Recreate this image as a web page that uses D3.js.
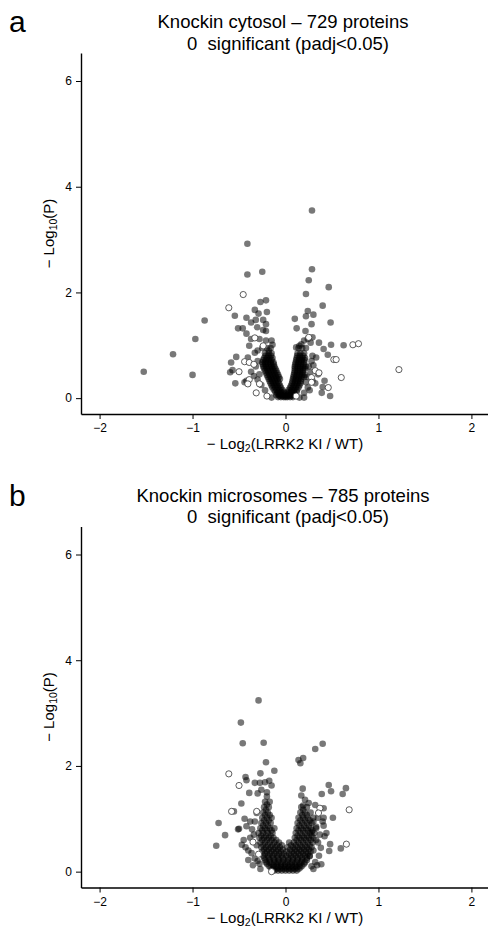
<!DOCTYPE html>
<html>
<head>
<meta charset="utf-8">
<script src="https://cdn.jsdelivr.net/npm/d3@7"></script>
<style>
  body { margin: 0; background: #fff; }
  text { font-family: "Liberation Sans", Arial, sans-serif; fill: #000; }
</style>
</head>
<body>
<svg id="chart" width="488" height="929"></svg>
<script>
const xTicks = [-2, -1, 0, 1, 2];
const yTicks = [0, 2, 4, 6];

const cytosolTitle = ["Knockin cytosol \u2013 729 proteins", "0  significant (padj<0.05)"];
const microsomeTitle = ["Knockin microsomes \u2013 785 proteins", "0  significant (padj<0.05)"];

// dense core of the volcano, rows of [y, xs]
const cytosolCore = [
  [0.02, [-0.08, -0.05, -0.02, 0, 0.02, 0.05, 0.08]],
  [0.04, [-0.065, -0.035, -0.01, 0.015, 0.04, 0.065]],
  [0.06, [-0.1, -0.07, -0.04, -0.01, 0.02, 0.05, 0.08, 0.1]],
  [0.09, [-0.09, -0.06, -0.03, 0.0, 0.035, 0.065, 0.095]],
  [0.12, [-0.11, -0.08, -0.05, -0.02, 0.03, 0.06, 0.09, 0.12]],
  [0.16, [-0.125, -0.095, -0.065, -0.035, 0.035, 0.065, 0.095, 0.125]],
  [0.2, [-0.14, -0.11, -0.08, -0.05, 0.05, 0.08, 0.11, 0.14]],
  [0.24, [-0.15, -0.12, -0.09, -0.06, 0.06, 0.09, 0.12, 0.15]],
  [0.28, [-0.16, -0.13, -0.1, -0.07, 0.07, 0.1, 0.13, 0.16]],
  [0.32, [-0.17, -0.14, -0.11, -0.08, 0.075, 0.105, 0.135, 0.165]],
  [0.36, [-0.18, -0.15, -0.12, -0.09, -0.06, 0.08, 0.11, 0.14, 0.17]],
  [0.4, [-0.19, -0.16, -0.13, -0.1, -0.07, 0.085, 0.115, 0.145, 0.175, 0.2]],
  [0.44, [-0.2, -0.17, -0.14, -0.11, -0.08, 0.09, 0.12, 0.15, 0.18, 0.21]],
  [0.48, [-0.21, -0.18, -0.15, -0.12, -0.09, 0.095, 0.125, 0.155, 0.185]],
  [0.52, [-0.22, -0.19, -0.16, -0.13, -0.1, 0.1, 0.13, 0.16, 0.19]],
  [0.56, [-0.23, -0.2, -0.17, -0.14, -0.11, 0.1, 0.13, 0.16, 0.19, 0.21]],
  [0.6, [-0.24, -0.21, -0.18, -0.15, -0.12, 0.1, 0.13, 0.16, 0.19, 0.22]],
  [0.64, [-0.245, -0.215, -0.185, -0.155, -0.125, 0.105, 0.135, 0.165, 0.195]],
  [0.68, [-0.25, -0.22, -0.19, -0.16, -0.13, 0.11, 0.14, 0.17, 0.2]],
  [0.72, [-0.24, -0.21, -0.18, -0.15, 0.115, 0.145, 0.175, 0.205]],
  [0.76, [-0.23, -0.2, -0.17, -0.14, 0.12, 0.15, 0.18, 0.21]],
  [0.8, [-0.215, -0.185, -0.155, 0.125, 0.155, 0.19]],
  [0.85, [-0.22, -0.18, -0.15, 0.13, 0.16, 0.2]],
  [0.95, [-0.2, -0.16, 0.14, 0.18, 0.22]]
];

const cytosolPoints = [
  [-1.525, 0.5], [-1.21, 0.83], [-1.0, 0.44], [-0.97, 1.12], [-0.87, 1.47],
  [-0.41, 2.92], [-0.41, 2.34], [-0.25, 2.39],
  [-0.545, 1.56], [-0.42, 1.52], [-0.33, 1.67], [-0.27, 1.82], [-0.21, 1.85], [-0.29, 1.6], [-0.2, 1.63],
  [-0.51, 1.32], [-0.46, 1.32], [-0.42, 1.22], [-0.37, 1.43], [-0.32, 1.48], [-0.24, 1.48], [-0.21, 1.4],
  [-0.305, 1.34], [-0.24, 1.29], [-0.21, 1.27], [-0.28, 1.12], [-0.37, 1.12], [-0.21, 1.09], [-0.15, 1.09],
  [-0.14, 1.01], [-0.39, 0.99], [-0.33, 0.86], [-0.3, 0.9], [-0.405, 0.77], [-0.53, 0.78], [-0.585, 0.675],
  [-0.57, 0.53], [-0.595, 0.49], [-0.37, 0.5], [-0.54, 0.28], [-0.44, 0.3], [-0.42, 0.33], [-0.15, 0.01],
  [-0.3, 0.7], [-0.32, 0.6], [-0.28, 0.45], [-0.3, 0.35], [-0.26, 0.25], [-0.22, 0.15], [-0.34, 0.42],
  [-0.18, 0.9], [-0.25, 0.95],
  [0.285, 3.55], [0.285, 2.44], [0.25, 2.23], [0.465, 2.1], [0.22, 1.97], [0.4, 1.75], [0.24, 1.65],
  [0.22, 1.55], [0.3, 1.58], [0.1, 1.5], [0.12, 1.32], [0.215, 1.27], [0.28, 1.4], [0.485, 1.43],
  [0.27, 1.05], [0.36, 1.05], [0.49, 1.01], [0.625, 1.0], [0.41, 0.93], [0.455, 0.82],
  [0.42, 0.33], [0.4, 0.21], [0.48, 0.04], [0.39, 0.1], [0.29, 0.33], [0.2, 0.01], [0.15, 0.01], [0.24, 0.2],
  [0.17, 1.02], [0.2, 1.09], [0.24, 1.12], [0.29, 1.15], [0.115, 0.96], [0.15, 0.99], [0.29, 0.8], [0.33, 0.77],
  [0.25, 0.6], [0.27, 0.5], [0.24, 0.4], [0.28, 0.7], [0.22, 0.3], [0.3, 0.62], [0.35, 0.45], [0.32, 0.28],
  [0.26, 0.15], [0.2, 0.1]
];

const cytosolOpen = [
  [-0.61, 1.71], [-0.455, 1.96], [-0.33, 1.14], [-0.24, 0.99], [-0.44, 0.69], [-0.39, 0.675], [-0.34, 0.64],
  [-0.5, 0.5], [-0.39, 0.35], [-0.405, 0.27], [-0.315, 0.1], [-0.28, 0.27], [-0.2, 0.04],
  [0.25, 1.15], [0.725, 1.01], [0.785, 1.03], [0.52, 0.73], [0.545, 0.73], [1.22, 0.54], [0.6, 0.39],
  [0.32, 0.52], [0.36, 0.48], [0.46, 0.2], [0.28, 0.39], [0.28, 0.3], [0.115, 0.04]
];

const microsomeCore = [
  [0.02, [-0.12, -0.08, -0.04, 0, 0.04, 0.08, 0.12]],
  [0.05, [-0.14, -0.1, -0.06, -0.02, 0.02, 0.06, 0.1, 0.14]],
  [0.08, [-0.16, -0.12, -0.08, -0.04, 0, 0.04, 0.08, 0.12, 0.16]],
  [0.11, [-0.18, -0.13, -0.09, -0.05, -0.01, 0.03, 0.07, 0.11, 0.15, 0.18]],
  [0.15, [-0.2, -0.15, -0.1, -0.05, 0, 0.05, 0.1, 0.15, 0.2]],
  [0.18, [-0.21, -0.17, -0.12, -0.08, -0.03, 0.02, 0.07, 0.12, 0.17, 0.21]],
  [0.22, [-0.22, -0.17, -0.12, -0.07, -0.02, 0.03, 0.08, 0.13, 0.18, 0.23]],
  [0.26, [-0.23, -0.18, -0.13, -0.08, -0.03, 0.03, 0.08, 0.13, 0.18, 0.23]],
  [0.3, [-0.24, -0.19, -0.14, -0.09, -0.04, 0.01, 0.06, 0.11, 0.16, 0.21, 0.26]],
  [0.34, [-0.22, -0.17, -0.12, -0.07, -0.02, 0.04, 0.09, 0.14, 0.19, 0.24]],
  [0.38, [-0.25, -0.2, -0.15, -0.1, -0.05, 0.01, 0.07, 0.12, 0.17, 0.22, 0.27]],
  [0.42, [-0.23, -0.18, -0.13, -0.08, -0.03, 0.05, 0.1, 0.15, 0.2, 0.25]],
  [0.46, [-0.26, -0.21, -0.16, -0.11, -0.06, 0.02, 0.08, 0.13, 0.18, 0.23, 0.28]],
  [0.5, [-0.24, -0.19, -0.14, -0.09, -0.04, 0.06, 0.11, 0.16, 0.21, 0.26]],
  [0.55, [-0.27, -0.22, -0.17, -0.12, -0.07, 0.04, 0.09, 0.14, 0.19, 0.24, 0.29]],
  [0.6, [-0.25, -0.2, -0.15, -0.1, 0.12, 0.17, 0.22, 0.27]],
  [0.64, [-0.28, -0.23, -0.18, -0.13, 0.1, 0.15, 0.2, 0.25, 0.3]],
  [0.68, [-0.26, -0.21, -0.16, 0.13, 0.18, 0.23, 0.28]],
  [0.73, [-0.29, -0.24, -0.19, -0.14, 0.11, 0.16, 0.21, 0.26, 0.31]],
  [0.78, [-0.25, -0.2, -0.15, 0.14, 0.19, 0.24, 0.29]],
  [0.82, [-0.27, -0.22, -0.17, -0.12, 0.12, 0.17, 0.22, 0.27, 0.33]],
  [0.87, [-0.24, -0.19, 0.15, 0.2, 0.25]],
  [0.92, [-0.26, -0.21, -0.16, 0.13, 0.18, 0.23, 0.28]],
  [0.97, [-0.23, -0.18, 0.16, 0.21, 0.26]],
  [1.02, [-0.25, -0.2, -0.15, 0.14, 0.19, 0.24, 0.3]],
  [1.07, [-0.22, -0.17, 0.18, 0.23]],
  [1.12, [-0.24, -0.19, 0.16, 0.21, 0.27]],
  [1.17, [-0.21, 0.19]],
  [1.22, [-0.23, -0.18, 0.17, 0.23]],
  [1.27, [-0.2]],
  [1.32, [-0.22, -0.17]],
  [1.42, [-0.2]]
];

const microsomePoints = [
  [-0.29, 3.24], [-0.48, 2.82], [-0.46, 2.43], [-0.235, 2.44], [0.32, 2.32], [0.4, 2.42], [0.14, 2.11],
  [0.19, 2.15], [0.16, 2.05], [-0.21, 2.07],
  [-0.27, 1.86], [-0.12, 1.91], [-0.43, 1.79], [-0.42, 1.73], [-0.33, 1.68], [-0.275, 1.68], [-0.22, 1.69],
  [-0.175, 1.72], [-0.15, 1.63], [-0.39, 1.49], [-0.3, 1.48],
  [-0.475, 1.29], [-0.555, 1.14], [-0.72, 0.92], [-0.65, 0.69], [-0.745, 0.49], [-0.51, 0.8], [-0.47, 0.51],
  [-0.43, 0.46], [-0.365, 0.35], [-0.38, 0.64], [-0.42, 0.86], [-0.31, 1.11],
  [-0.5, 0.81], [-0.33, 0.95], [-0.36, 0.8], [-0.34, 0.7], [-0.31, 0.5], [-0.33, 0.25], [-0.28, 0.15],
  [-0.4, 0.22], [-0.26, 1.55], [-0.2, 1.5],
  [-0.45, 0.6], [-0.4, 0.4], [-0.38, 0.95], [-0.44, 1.0], [-0.3, 0.2], [-0.35, 0.12], [-0.27, 0.05],
  [0.185, 1.57], [0.17, 1.44], [0.21, 1.36], [0.19, 1.25], [0.465, 1.64], [0.49, 1.52], [0.65, 1.58],
  [0.615, 1.47], [0.39, 1.47], [0.41, 1.2], [0.32, 1.26], [0.51, 1.02], [0.41, 1.02], [0.35, 1.02],
  [0.41, 0.87], [0.44, 0.73], [0.42, 0.67], [0.48, 0.52], [0.595, 0.44], [0.47, 0.39], [0.385, 0.14],
  [0.32, 0.18], [0.26, 0.29], [0.35, 0.55], [0.33, 0.85], [0.37, 0.7], [0.3, 0.4], [0.36, 0.3],
  [0.28, 0.1], [0.25, 1.3],
  [0.3, 0.05], [0.33, 0.6], [0.38, 0.45], [0.4, 0.95], [0.3, 0.95], [0.34, 0.12], [0.28, 0.75]
];

const microsomeOpen = [
  [-0.61, 1.85], [-0.5, 1.63], [-0.58, 1.14], [-0.31, 1.14], [-0.35, 0.56], [-0.29, 0.33],
  [0.685, 1.17], [0.37, 1.2], [0.355, 1.11], [0.655, 0.52], [-0.15, 0.0]
];

const svg = d3.select("#chart");

const x = d3.scaleLinear().domain([-2.2, 2.2]).range([81, 490]);
const y = d3.scaleLinear().domain([-0.3, 6.53]).range([414, 53]);

const minus = (d) => d3.format("d")(d).replace("-", "\u2212");

function flattenCore(rows) {
  const pts = [];
  rows.forEach(([yv, xs]) => xs.forEach((xv) => pts.push([xv, yv])));
  return pts;
}

function drawPanel(offsetY, letter, title, core, points, open) {
  const g = svg.append("g").attr("transform", `translate(0, ${offsetY})`);

  // panel letter
  g.append("text")
    .attr("x", 9)
    .attr("y", 32)
    .style("font-size", "30px")
    .text(letter);

  // two-line title
  g.append("text")
    .attr("x", 283)
    .attr("y", 28)
    .attr("text-anchor", "middle")
    .style("font-size", "18.5px")
    .text(title[0]);
  g.append("text")
    .attr("x", 288)
    .attr("y", 49.5)
    .attr("text-anchor", "middle")
    .style("font-size", "18.5px")
    .style("white-space", "pre")
    .text(title[1]);

  const filled = flattenCore(core).concat(points);

  g.append("g")
    .selectAll("circle")
    .data(filled)
    .join("circle")
    .attr("cx", (d) => x(d[0]))
    .attr("cy", (d) => y(d[1]))
    .attr("r", 3.3)
    .attr("fill", "#000")
    .attr("fill-opacity", 0.53);

  g.append("g")
    .selectAll("circle")
    .data(open)
    .join("circle")
    .attr("cx", (d) => x(d[0]))
    .attr("cy", (d) => y(d[1]))
    .attr("r", 3.1)
    .attr("fill", "#fff")
    .attr("stroke", "#333")
    .attr("stroke-width", 0.8);

  // X axis
  const xAxis = g.append("g")
    .attr("transform", `translate(0, ${y.range()[0]})`)
    .call(d3.axisBottom(x).tickValues(xTicks).tickFormat(minus).tickSize(5).tickSizeOuter(0));

  // Y axis
  const yAxis = g.append("g")
    .attr("transform", `translate(${x.range()[0]}, 0)`)
    .call(d3.axisLeft(y).tickValues(yTicks).tickFormat(minus).tickSize(5).tickSizeOuter(0));

  [xAxis, yAxis].forEach((a) => {
    a.select(".domain").attr("stroke-width", 1.4);
    a.selectAll(".tick line").attr("stroke-width", 1);
    a.selectAll(".tick text")
      .style("font-family", "'Liberation Sans', Arial, sans-serif")
      .style("font-size", "12px");
  });
  xAxis.selectAll(".tick text").attr("y", 7).attr("dy", "0.95em");
  yAxis.selectAll(".tick text").attr("x", -9);

  // X axis label
  const xl = g.append("text")
    .attr("x", 285)
    .attr("y", 449)
    .attr("text-anchor", "middle")
    .style("font-size", "15px");
  xl.append("tspan").text("\u2212 Log");
  xl.append("tspan").attr("dy", 3).style("font-size", "10.5px").text("2");
  xl.append("tspan").attr("dy", -3).text("(LRRK2 KI / WT)");

  // Y axis label
  const yl = g.append("text")
    .attr("transform", `translate(54, ${(y.range()[0] + y.range()[1]) / 2}) rotate(-90)`)
    .attr("text-anchor", "middle")
    .style("font-size", "15px");
  yl.append("tspan").text("\u2212 Log");
  yl.append("tspan").attr("dy", 3).style("font-size", "10.5px").text("10");
  yl.append("tspan").attr("dy", -3).text("(P)");
}

drawPanel(0, "a", cytosolTitle, cytosolCore, cytosolPoints, cytosolOpen);
drawPanel(473.5, "b", microsomeTitle, microsomeCore, microsomePoints, microsomeOpen);
</script>
</body>
</html>
